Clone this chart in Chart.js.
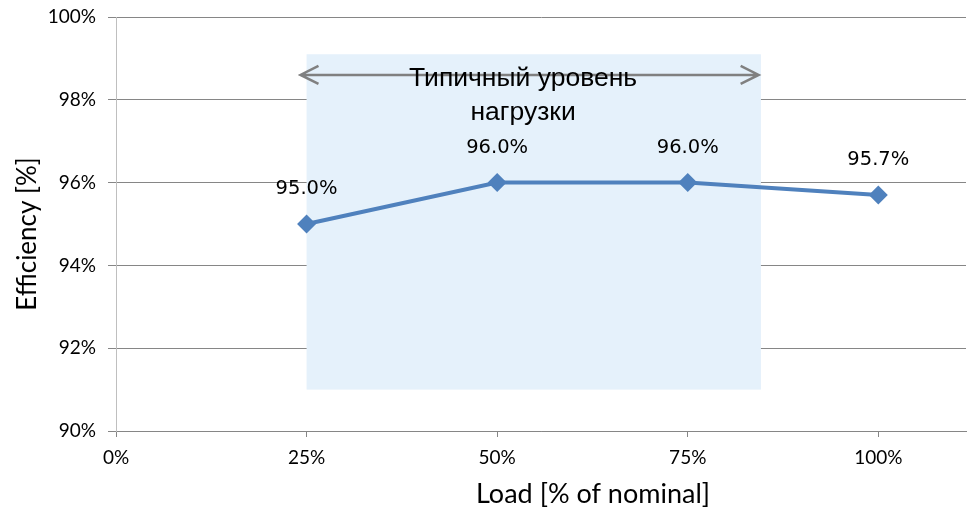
<!DOCTYPE html>
<html>
<head>
<meta charset="utf-8">
<script src="https://cdn.jsdelivr.net/npm/chart.js"></script>
<style>
  html, body { margin: 0; padding: 0; background: #fff; overflow: hidden; }
  #wrap { width: 968px; height: 509px; }
  canvas { display: block; }
</style>
</head>
<body>
<div id="wrap"><canvas id="chart" width="968" height="509"></canvas></div>
<script>
// data
const loadPct = [25, 50, 75, 100];
const efficiency = [95.0, 96.0, 96.0, 95.7];
const xTicks = [0, 25, 50, 75, 100];
const yTicks = [90, 92, 94, 96, 98, 100];

// shaded "typical load" band and its arrow, in data units
const bandX = [25, 84.6];
const bandY = [91, 99.1];
const arrowX = [24.2, 84.3];
const arrowY = 98.6;
const bandText = ['Типичный уровень', 'нагрузки'];
const bandTextX = 53.4;
const bandTextY = [98.5, 97.7];

const xTitle = 'Load [% of nominal]';
const yTitle = 'Efficiency [%]';

const blue = '#4F81BD';

const overlay = {
  id: 'overlay',
  beforeDatasetsDraw(chart) {
    const { ctx, scales: { x, y } } = chart;
    ctx.save();
    ctx.fillStyle = '#E5F1FB';
    const x0 = x.getPixelForValue(bandX[0]), x1 = x.getPixelForValue(bandX[1]);
    const y0 = y.getPixelForValue(bandY[1]), y1 = y.getPixelForValue(bandY[0]);
    ctx.fillRect(x0, y0, x1 - x0, y1 - y0);
    ctx.restore();
  },
  afterDatasetsDraw(chart) {
    const { ctx, scales: { x, y } } = chart;
    ctx.save();

    // double arrow
    const ax0 = x.getPixelForValue(arrowX[0]), ax1 = x.getPixelForValue(arrowX[1]);
    const ay = y.getPixelForValue(arrowY);
    ctx.strokeStyle = '#808080';
    ctx.lineWidth = 2.5;
    ctx.beginPath();
    ctx.moveTo(ax0, ay); ctx.lineTo(ax1, ay);
    ctx.moveTo(ax0 + 18, ay - 9); ctx.lineTo(ax0, ay); ctx.lineTo(ax0 + 18, ay + 9);
    ctx.moveTo(ax1 - 18, ay - 9); ctx.lineTo(ax1, ay); ctx.lineTo(ax1 - 18, ay + 9);
    ctx.stroke();

    // band text
    ctx.fillStyle = '#000';
    ctx.font = '26.5px "Liberation Sans", Arial, sans-serif';
    ctx.textAlign = 'center';
    ctx.textBaseline = 'middle';
    bandText.forEach((t, i) => {
      ctx.fillText(t, x.getPixelForValue(bandTextX), y.getPixelForValue(bandTextY[i]));
    });

    // data labels
    ctx.font = '19.5px "DejaVu Sans", sans-serif';
    const meta = chart.getDatasetMeta(0);
    meta.data.forEach((pt, i) => {
      ctx.fillText(efficiency[i].toFixed(1) + '%', pt.x, pt.y - 35);
    });

    // axis titles
    ctx.font = '27px Lato, sans-serif';
    ctx.fillText(xTitle, 593, 494);
    ctx.font = '26px Lato, sans-serif';
    ctx.translate(28, 234);
    ctx.rotate(-Math.PI / 2);
    ctx.fillText(yTitle, 0, 0);
    ctx.restore();
  }
};

new Chart(document.getElementById('chart'), {
  type: 'line',
  data: {
    datasets: [{
      data: loadPct.map((v, i) => ({ x: v, y: efficiency[i] })),
      borderColor: blue,
      backgroundColor: blue,
      borderWidth: 4,
      pointStyle: 'rectRot',
      pointRadius: 9.5,
      pointBorderWidth: 0,
      fill: false,
      tension: 0
    }]
  },
  options: {
    responsive: false,
    animation: false,
    layout: { autoPadding: false, padding: { top: 17, right: 2, left: 0, bottom: 0 } },
    plugins: { legend: { display: false }, tooltip: { enabled: false } },
    scales: {
      x: {
        type: 'linear',
        min: 0,
        max: 111.5,
        afterBuildTicks: s => { s.ticks = xTicks.map(v => ({ value: v })); },
        afterFit: s => { s.height = 78; s.paddingLeft = 0; s.paddingRight = 0; },
        ticks: {
          callback: v => v + '%',
          color: '#000',
          font: { family: 'Lato', size: 19 },
          padding: 9,
          maxRotation: 0
        },
        grid: { drawOnChartArea: false, drawTicks: true, tickLength: 6, color: '#868686' },
        border: { color: '#868686' }
      },
      y: {
        min: 90,
        max: 100,
        afterBuildTicks: s => { s.ticks = yTicks.map(v => ({ value: v })); },
        afterFit: s => { s.width = 116; s.paddingTop = 0; s.paddingBottom = 0; },
        ticks: {
          callback: v => v + '%',
          color: '#000',
          font: { family: 'Lato', size: 19 },
          padding: 12
        },
        grid: { color: '#868686', tickLength: 8 },
        border: { color: '#BFBFBF' }
      }
    }
  },
  plugins: [overlay]
});
</script>
</body>
</html>
